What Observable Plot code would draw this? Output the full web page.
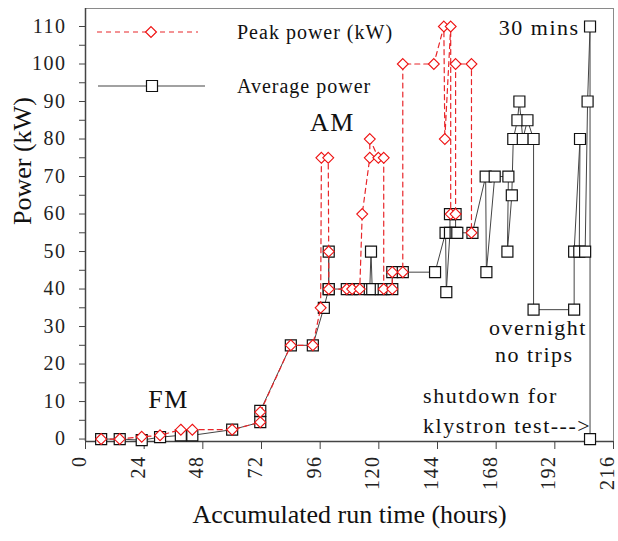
<!DOCTYPE html>
<html>
<head>
<meta charset="utf-8">
<script src="https://cdn.jsdelivr.net/npm/d3@7"></script>
<script src="https://cdn.jsdelivr.net/npm/@observablehq/plot@0.6"></script>
<style>
html, body { margin: 0; padding: 0; background: #fff; }
#chart svg text { letter-spacing: 1.5px; }
</style>
</head>
<body>
<div id="chart"></div>
<script>
// Average power (squares), in drawing order
const avgHours = [6.4,14,23,30.5,39,43.7,60,71.5,71.5,84,93,97.5,99.5,99.5,99.5,106.9,108.9,112.2,116.3,116.8,117.3,120.8,122,125.5,125.5,129.8,143,147.3,147.6,149.1,149.1,151.4,151.4,152.1,158.3,163.7,164.0,167.4,173.0,172.6,174.4,175.0,176.7,177.5,178.9,180.8,183.3,183.3,199.9,199.9,202.3,202.0,204.4,205.4,206.4,206.4];
const avgKW    = [0,0,-0.3,0.5,1,1,2.5,4.5,7.5,25,25,35,40,50,40,40,40,40,40,50,40,40,40,40,44.5,44.5,44.5,55,39.2,55,60,60,55,55,55,70,44.5,70,70,50,65,80,85,90,80,85,80,34.5,34.5,50,80,50,50,90,110,0];

// Peak power (diamonds), in drawing order
const peakHours = [6.4,14,23,30.5,39,43.7,60,71.5,71.5,84,93,96.2,96.5,99.3,99.5,99.5,106.9,109.1,112.2,113.2,116.3,116.3,119.8,122,122,125.5,125.5,129.8,129.8,142.5,146.6,147.0,149.4,149.4,151.4,151.4,157.9,157.9];
const peakKW    = [0,0,0.6,1,2.5,2.5,2.5,4.5,7.2,25,25,35,75,75,50,40,40,40,40,60,75,80,75,75,40,40,44.5,44.5,100,100,110,80,110,60,60,100,100,55];

// Axes
const xTicks = [0,24,48,72,96,120,144,168,192,216];
const yTicks = [0,10,20,30,40,50,60,70,80,90,100,110];
const yMinorTicks = [5,15,25,35,45,55,65,75,85,95,105];
const xTitle = "Accumulated run time (hours)";
const yTitle = "Power (kW)";

// Legend
const legendLabels = ["Peak power (kW)", "Average power"];

// Annotations
const notesCenter = ["FM", "AM", "30 mins", "overnight", "no trips"];
const notesCenterHours = [34, 101, 185.6, 185.1, 183.6];
const notesCenterKW = [10.5, 84.4, 109.5, 29.7, 22.5];
const notesCenterSize = [26, 26, 22, 22, 22];
const notesStart = ["shutdown for", "klystron test--->"];
const notesStartHours = [138.1, 138.1];
const notesStartKW = [11.6, 3.6];

const avg = avgHours.map((h, i) => ({h, kw: avgKW[i]}));
const peak = peakHours.map((h, i) => ({h, kw: peakKW[i]}));
const cNotes = notesCenter.map((t, i) => ({t, h: notesCenterHours[i], kw: notesCenterKW[i], s: notesCenterSize[i]}));
const sNotes = notesStart.map((t, i) => ({t, h: notesStartHours[i], kw: notesStartKW[i]}));

const yMin = -0.65, yMax = 114.8;
const red = "#e8262a";
const serif = "'Liberation Serif', 'Times New Roman', serif";

const chart = Plot.plot({
  width: 618,
  height: 541,
  marginLeft: 85,
  marginRight: 5,
  marginTop: 8,
  marginBottom: 100,
  style: {fontFamily: serif, fontSize: "20px", background: "white", color: "#222"},
  x: {domain: [0, 216]},
  y: {domain: [yMin, yMax]},
  marks: [
    Plot.frame({stroke: "#8a8a8a"}),
    Plot.axisY(yTicks, {tickSize: 6, tickPadding: 13, fontSize: 20, label: null, stroke: "#444"}),
    Plot.axisY(yMinorTicks, {tickSize: 6, tickFormat: () => "", label: null, stroke: "#444"}),
    Plot.axisX(xTicks, {tickSize: 8, tickRotate: -90, tickPadding: 6, fontSize: 20, label: null, stroke: "#444"}),
    Plot.ruleX([0], {stroke: "#444", strokeWidth: 1.5}),
    Plot.ruleY([yMin], {stroke: "#444", strokeWidth: 1.5}),
    Plot.line(avg, {x: "h", y: "kw", stroke: "#444", strokeWidth: 1}),
    Plot.dot(avg, {x: "h", y: "kw", symbol: "square2", r: 7, stroke: "#111", fill: "white", strokeWidth: 1.2}),
    Plot.line(peak, {x: "h", y: "kw", stroke: red, strokeWidth: 1.2, strokeDasharray: "5,4"}),
    Plot.dot(peak, {x: "h", y: "kw", symbol: "diamond2", r: 4.9, stroke: "#ee1111", fill: "white", strokeWidth: 1.1}),
    Plot.text(cNotes, {x: "h", y: "kw", text: "t", fontSize: "s", fill: "#111"}),
    Plot.text(sNotes, {x: "h", y: "kw", text: "t", fontSize: 22, textAnchor: "start", fill: "#111"}),
    Plot.text([xTitle], {text: d => d, frameAnchor: "bottom", dy: 81, fontSize: 26, fill: "#111"}),
    Plot.text([yTitle], {text: d => d, frameAnchor: "left", dx: -63, rotate: -90, fontSize: 26, fill: "#111"})
  ]
});

document.getElementById("chart").appendChild(chart);

// Titles without extra letter spacing
d3.select(chart).selectAll("text")
  .filter(function() { return this.textContent === xTitle || this.textContent === yTitle; })
  .style("letter-spacing", "0px");

// Nudge the rotated x tick labels slightly left, as in the reference
d3.select(chart).selectAll("g[aria-label='x-axis tick label']").each(function() {
  const t = this.getAttribute("transform") || "";
  this.setAttribute("transform", (t + " translate(-6,0)").trim());
});

// Legend (inside the plot, top-left)
const svg = d3.select(chart);
const leg = svg.append("g").attr("font-family", serif).attr("font-size", 20).attr("text-anchor", "start");
const legendSpec = [
  {label: legendLabels[0], y: 32, x1: 97, x2: 198, sx: 151, stroke: red, dash: "5,4", sym: d3.symbolDiamond2, size: Math.PI * 4.9 * 4.9, symStroke: "#ee1111"},
  {label: legendLabels[1], y: 86, x1: 98, x2: 205, sx: 152, stroke: "#444", dash: null, sym: d3.symbolSquare2, size: Math.PI * 7 * 7, symStroke: "#111"}
];
legendSpec.forEach(d => {
  leg.append("line").attr("x1", d.x1).attr("x2", d.x2).attr("y1", d.y).attr("y2", d.y)
    .attr("stroke", d.stroke).attr("stroke-width", 1.2).attr("stroke-dasharray", d.dash);
  leg.append("path").attr("d", d3.symbol(d.sym, d.size)()).attr("transform", `translate(${d.sx},${d.y})`)
    .attr("fill", "white").attr("stroke", d.symStroke).attr("stroke-width", 1.2);
  leg.append("text").attr("x", 237).attr("y", d.y).attr("dy", "0.35em").attr("fill", "#111")
    .attr("text-anchor", "start")
    .style("letter-spacing", "1px").text(d.label);
});
</script>
</body>
</html>
